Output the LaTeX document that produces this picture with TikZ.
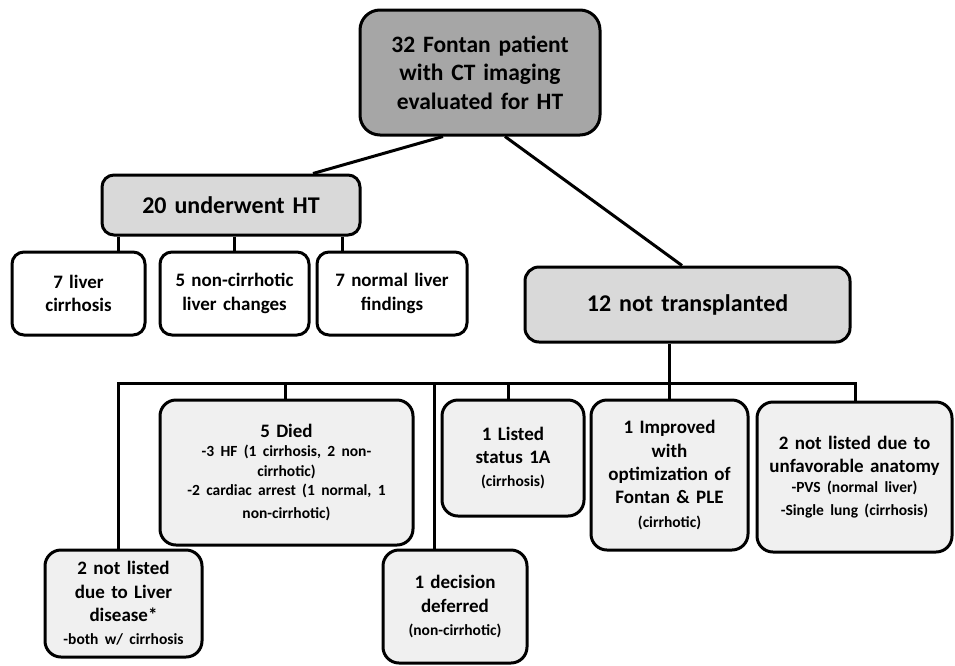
\documentclass[tikz,border=0pt]{standalone}
\usepackage{fontspec}
\setmainfont{Carlito}
\newcommand\detailfont{\fontsize{15.5}{19.5}\selectfont}
\begin{document}
\begin{tikzpicture}[x=1pt,y=-1pt,
  box/.style={draw,line width=3pt,rounded corners=16pt,inner sep=0pt,align=center},
  big/.style={font=\bfseries\fontsize{23.5}{28.5}\selectfont},
  mid/.style={font=\bfseries\fontsize{19}{23.3}\selectfont},
  link/.style={line width=3pt}]
	\useasboundingbox (0,0) rectangle (955,665);
	% top level
	\node[box,big,fill=black!35,text width=240pt,minimum height=125pt,rounded corners=20pt] (pat) at (480,72.5) {32 Fontan patient\\with CT imaging\\evaluated for HT};
	\node[box,font=\bfseries\fontsize{24}{29}\selectfont,fill=black!15,text width=258pt,minimum height=60pt,rounded corners=12pt] (ht) at (231,205) {20 underwent HT};
	\node[box,font=\bfseries\fontsize{24}{29}\selectfont,fill=black!15,text width=325pt,minimum height=75pt,rounded corners=14pt] (nt) at (687.5,304.5) {12 not transplanted};
	% transplanted
	\node[box,mid,fill=white,text width=133pt,minimum height=83pt,rounded corners=12pt] (cir) at (78.5,293.5) {7 liver\\cirrhosis};
	\node[box,mid,fill=white,text width=149pt,minimum height=83pt,rounded corners=12pt] (noncir) at (234.5,293.5) {5 non-cirrhotic\\liver changes};
	\node[box,mid,fill=white,text width=150pt,minimum height=83pt,rounded corners=12pt] (norm) at (392,293.5) {7 normal liver\\findings};
	% not transplanted
	\node[box,mid,fill=black!6,text width=253pt,minimum height=145pt] (died) at (286.5,472.5) {5 Died\par\detailfont -3 HF (1 cirrhosis, 2 non-\\cirrhotic)\\-2 cardiac arrest (1 normal, 1\\non-cirrhotic)};
	\node[box,mid,fill=black!6,text width=157pt,minimum height=107pt] (livd) at (123.5,603.5) {2 not listed\\due to Liver\\disease*\par\detailfont -both w/ cirrhosis};
	\node[box,mid,fill=black!6,text width=144pt,minimum height=113pt] (dec) at (455,606.5) {1 decision\\deferred\par\detailfont (non-cirrhotic)};
	\node[box,mid,fill=black!6,text width=142pt,minimum height=116pt] (list) at (513,458) {1 Listed\\status 1A\par\detailfont (cirrhosis)};
	\node[box,mid,fill=black!6,text width=157pt,minimum height=150pt] (imp) at (669.5,475) {1 Improved\\with\\optimization of\\Fontan \& PLE\par\detailfont (cirrhotic)};
	\node[box,mid,fill=black!6,text width=195pt,minimum height=150pt] (anat) at (854.5,477) {2 not listed due to\\unfavorable anatomy\par\detailfont -PVS (normal liver)\\-Single lung (cirrhosis)};
	% connectors
	\draw[link] ([xshift=-37pt]pat.south) -- ([xshift=82pt]ht.north);
	\draw[link] ([xshift=25pt]pat.south) -- ([xshift=-5.5pt]nt.north);
	\coordinate (dcir) at (118,0);
	\coordinate (dnorm) at (342,0);
	\draw[link] (ht.south -| dcir) -- (cir.north -| dcir);
	\draw[link] (ht.south -| noncir.north) -- (noncir.north);
	\draw[link] (ht.south -| dnorm) -- (norm.north -| dnorm);
	\coordinate (bliv) at (118,383);
	\coordinate (bdied) at (285,383);
	\coordinate (bdec) at (434,383);
	\coordinate (blist) at (508,383);
	\coordinate (banat) at (855,383);
	\draw[link] (nt.south -| imp.north) -- (imp.north);
	\draw[link] (livd.north -| bliv) -- (bliv) -- (banat) -- (anat.north -| banat);
	\draw[link] (bdied) -- (died.north -| bdied);
	\draw[link] (bdec) -- (dec.north -| bdec);
	\draw[link] (blist) -- (list.north -| blist);
\end{tikzpicture}
\end{document}
